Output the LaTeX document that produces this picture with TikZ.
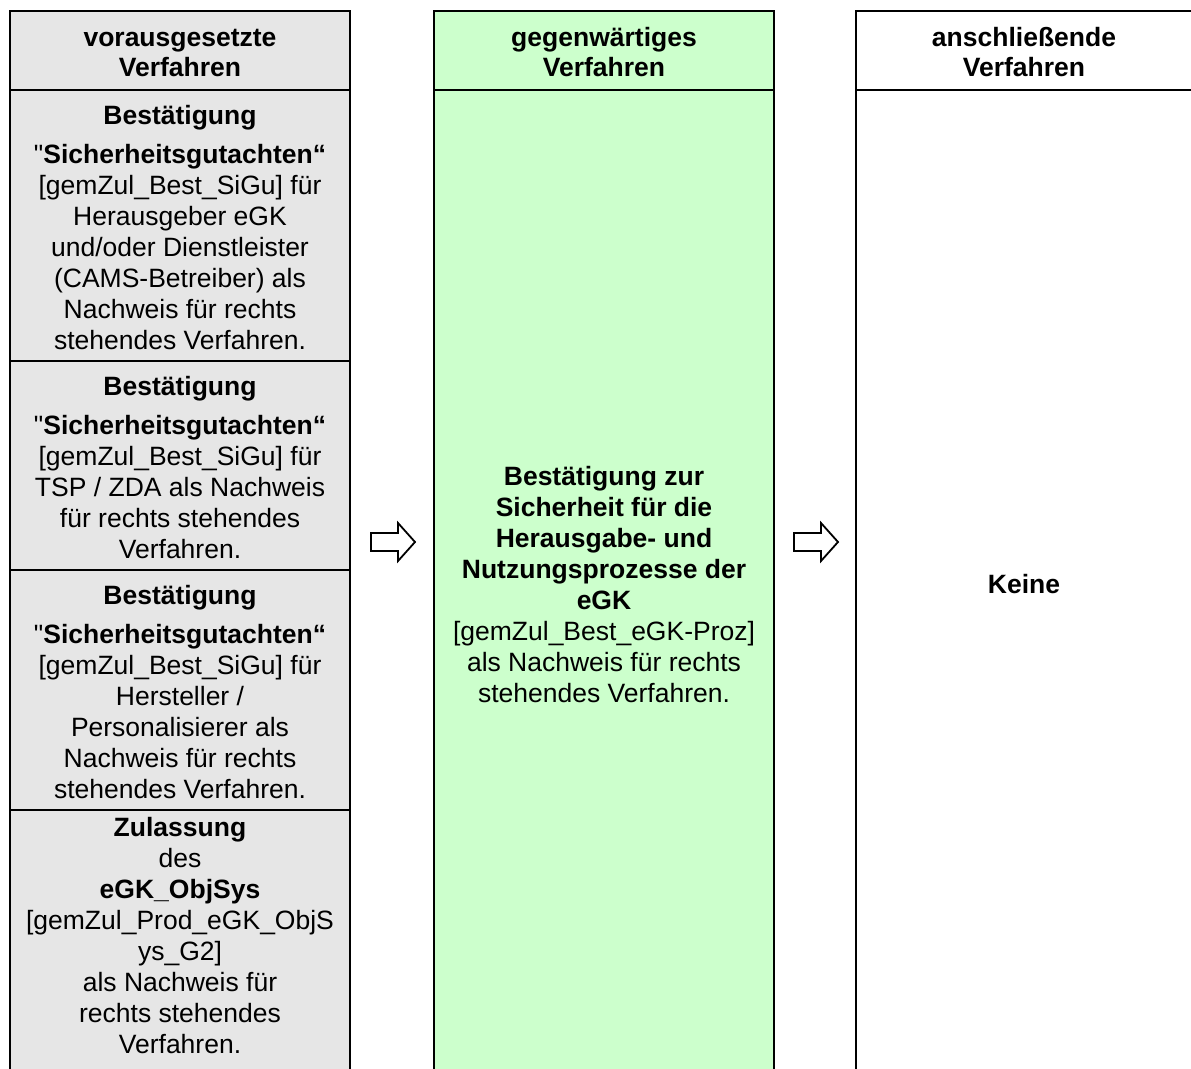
\documentclass[tikz,border=0pt]{standalone}
\usepackage{fontspec}
\setmainfont{Liberation Sans}[Ligatures=TeXOff]
\definecolor{cellgray}{HTML}{E6E6E6}
\definecolor{cellgreen}{HTML}{CCFFCC}
\newcommand{\fs}{\rule{0pt}{23pt}}
\begin{document}
\begin{tikzpicture}[x=1pt,y=-1pt,
  txt/.style={font=\fontsize{26.5pt}{31pt}\selectfont, align=center, inner sep=0pt, anchor=north},
  frame/.style={line width=1.6pt, line cap=rect},
  arrowshape/.style={line width=1.8pt, fill=white, line join=miter}]
\useasboundingbox (0,0) rectangle (1191,1068);
% column backgrounds
\fill[cellgray] (10,11) rectangle (350,1070);
\fill[cellgreen] (434,11) rectangle (774,1070);
% left column frame
\draw[frame] (10,1070) -- (10,11) -- (350,11) -- (350,1070);
\draw[frame] (10,90) -- (350,90);
\draw[frame] (10,361) -- (350,361);
\draw[frame] (10,570) -- (350,570);
\draw[frame] (10,810) -- (350,810);
% middle column frame
\draw[frame] (434,1070) -- (434,11) -- (774,11) -- (774,1070);
\draw[frame] (434,90) -- (774,90);
% right column frame
\draw[frame] (856,1070) -- (856,11) -- (1195,11);
\draw[frame] (856,90) -- (1195,90);
% headers
\node[txt, font=\fontsize{26.5pt}{30pt}\selectfont\bfseries] (hleft) at (180,23) {\fs vorausgesetzte\\Verfahren};
\node[txt, font=\fontsize{26.5pt}{30pt}\selectfont\bfseries] (hmid) at (604,23) {\fs gegenwärtiges\\Verfahren};
\node[txt, font=\fontsize{26.5pt}{30pt}\selectfont\bfseries] (hright) at (1024,23) {\fs anschließende\\Verfahren};
% left cells
\node[txt] (r1) at (180,101) {\fs\textbf{Bestätigung}\\[8pt]
"\textbf{Sicherheitsgutachten“}\\
{[}gemZul\_Best\_SiGu{]} für\\
Herausgeber eGK\\
und/oder Dienstleister\\
(CAMS-Betreiber) als\\
Nachweis für rechts\\
stehendes Verfahren.};
\node[txt] (r2) at (180,372) {\fs\textbf{Bestätigung}\\[8pt]
"\textbf{Sicherheitsgutachten“}\\
{[}gemZul\_Best\_SiGu{]} für\\
TSP / ZDA als Nachweis\\
für rechts stehendes\\
Verfahren.};
\node[txt] (r3) at (180,581) {\fs\textbf{Bestätigung}\\[8pt]
"\textbf{Sicherheitsgutachten“}\\
{[}gemZul\_Best\_SiGu{]} für\\
Hersteller /\\
Personalisierer als\\
Nachweis für rechts\\
stehendes Verfahren.};
\node[txt] (r4) at (180,813) {\fs\textbf{Zulassung}\\
des\\
\textbf{eGK\_ObjSys}\\
{[}gemZul\_Prod\_eGK\_ObjS\\
ys\_G2{]}\\
als Nachweis für\\
rechts stehendes\\
Verfahren.};
% middle cell
\node[txt] (mid) at (604,462) {\fs\textbf{Bestätigung zur}\\
\textbf{Sicherheit für die}\\
\textbf{Herausgabe- und}\\
\textbf{Nutzungsprozesse der}\\
\textbf{eGK}\\
{[}gemZul\_Best\_eGK-Proz{]}\\
als Nachweis für rechts\\
stehendes Verfahren.};
% right cell
\node[txt] (keine) at (1024,570) {\fs\textbf{Keine}};
% block arrows
\draw[arrowshape] (371,533) -- (398,533) -- (398,523) -- (415,542) -- (398,561) -- (398,551) -- (371,551) -- cycle;
\draw[arrowshape] (794,533) -- (821,533) -- (821,523) -- (838,542) -- (821,561) -- (821,551) -- (794,551) -- cycle;
\end{tikzpicture}
\end{document}
